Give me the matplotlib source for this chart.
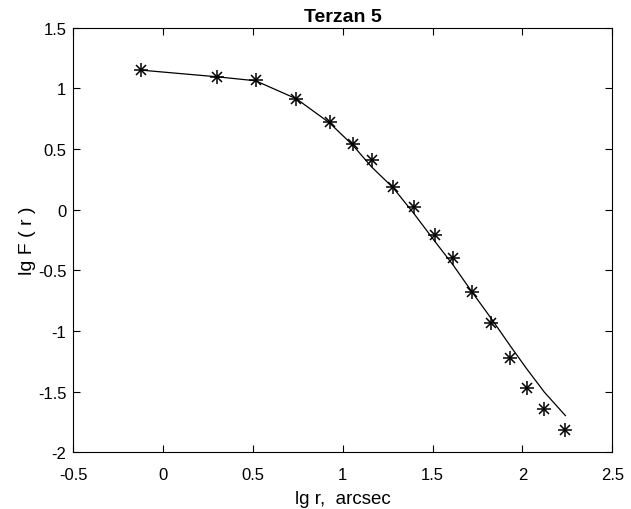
import matplotlib
matplotlib.use("Agg")
import matplotlib.pyplot as plt

plt.rcParams['font.family'] = ['Liberation Sans', 'DejaVu Sans']

lg_r = [-0.126, 0.297, 0.514, 0.742, 0.926, 1.056, 1.160, 1.280, 1.397, 1.512,
        1.616, 1.720, 1.824, 1.931, 2.024, 2.122, 2.239]
lg_F_obs = [1.152, 1.091, 1.069, 0.913, 0.720, 0.544, 0.412, 0.190, 0.025, -0.211,
            -0.401, -0.681, -0.932, -1.223, -1.467, -1.641, -1.816]
lg_F_model = [1.150, 1.095, 1.062, 0.913, 0.715, 0.530, 0.352, 0.180, -0.035, -0.261,
              -0.461, -0.681, -0.893, -1.121, -1.313, -1.505, -1.698]

xticks = [-0.5, 0, 0.5, 1, 1.5, 2, 2.5]
xtick_labels = ['-0.5', '0', '0.5', '1', '1.5', '2', '2.5']
yticks = [-2, -1.5, -1, -0.5, 0, 0.5, 1, 1.5]
ytick_labels = ['-2', '-1.5', '-1', '-0.5', '0', '0.5', '1', '1.5']

fig = plt.figure(figsize=(6.31, 5.10), dpi=100)
ax = fig.add_axes([0.1162, 0.1112, 0.8542, 0.8327])

ax.plot(lg_r, lg_F_model, color='black', linewidth=0.9)
ax.plot(lg_r, lg_F_obs, linestyle='none', marker='+', markersize=10,
        markeredgewidth=1.1, color='black')
ax.plot(lg_r, lg_F_obs, linestyle='none', marker='x', markersize=7,
        markeredgewidth=1.1, color='black')

ax.set_xlim(-0.5, 2.5)
ax.set_ylim(-2, 1.5)
ax.set_xticks(xticks)
ax.set_xticklabels(xtick_labels)
ax.set_yticks(yticks)
ax.set_yticklabels(ytick_labels)
ax.tick_params(direction='in', top=True, right=True, labelsize=12, length=5, width=0.8)
ax.tick_params(axis='x', pad=10.5)
ax.tick_params(axis='y', pad=5)
for s in ax.spines.values():
    s.set_linewidth(0.8)

ax.set_title('Terzan 5', fontsize=14, fontweight='bold', pad=5)
ax.set_xlabel('lg r,  arcsec', fontsize=13.5, labelpad=6)
ax.set_ylabel('lg F ( r )', fontsize=14, labelpad=1)

fig.savefig('out.png', dpi=100)
